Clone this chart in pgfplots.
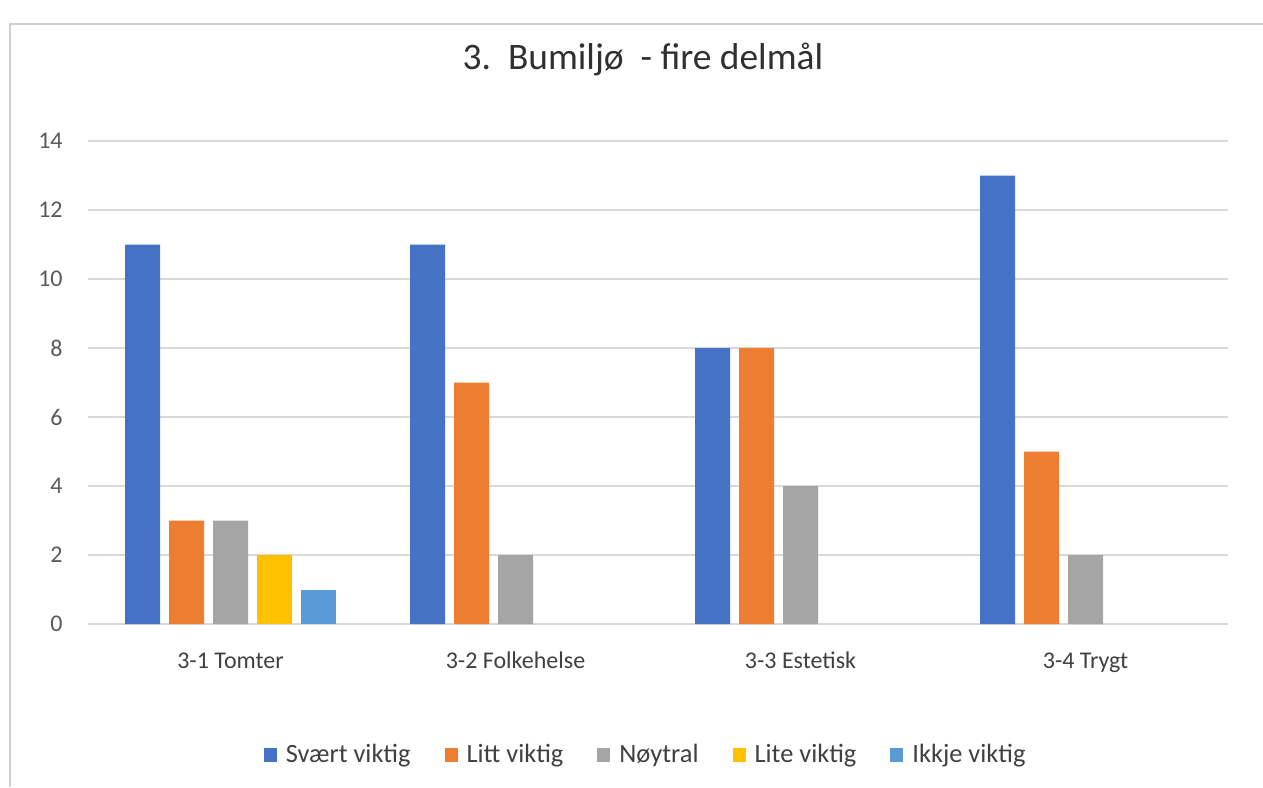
\documentclass[border=0pt]{standalone}
\usepackage{pgfplots}
\pgfplotsset{compat=1.18}
\usepackage{fontspec}
\setmainfont{Carlito}
\definecolor{cA}{HTML}{4472C4}
\definecolor{cB}{HTML}{ED7D31}
\definecolor{cC}{HTML}{A5A5A5}
\definecolor{cD}{HTML}{FFC000}
\definecolor{cE}{HTML}{5B9BD5}
\definecolor{gridgrey}{HTML}{D9D9D9}
\definecolor{framegrey}{HTML}{D0D0D0}
\definecolor{ticktext}{HTML}{595959}
\definecolor{labtext}{HTML}{404040}
\definecolor{titletext}{HTML}{303030}
\begin{document}
\begin{tikzpicture}
\path[use as bounding box] (0pt,0pt) rectangle (631.5pt,-393.5pt);
\draw[framegrey, line width=1pt] (5pt,-393.5pt) -- (5pt,-12pt) -- (631.5pt,-12pt);
\node[font=\fontsize{18.7}{22}\selectfont, text=titletext] at (321.5pt,-29.5pt) {3.\ \ Bumiljø\ \ - fire delmål};
\begin{axis}[
  at={(44pt,-312pt)}, anchor=south west,
  scale only axis, width=570pt, height=241.5pt,
  xmin=-0.5, xmax=3.5, ymin=0, ymax=14,
  ytick={0,2,...,14},
  xtick={0,1,2,3},
  xticklabels={3-1 Tomter,3-2 Folkehelse,3-3 Estetisk,3-4 Trygt},
  axis line style={draw=none},
  major tick length=0pt,
  ymajorgrids, major grid style={draw=gridgrey, line width=0.8pt},
  /pgf/number format/assume math mode=true,
  yticklabel style={font=\fontsize{12}{14}\selectfont, text=ticktext, anchor=east, inner sep=0pt, xshift=-12.5pt},
  xticklabel style={font=\fontsize{12}{14}\selectfont, text=labtext, anchor=base, inner sep=0pt, yshift=-22pt},
  ybar=4.5pt, bar width=17.5pt,
  legend columns=5,
  legend style={draw=none, fill=none, at={(0.49,-0.271)}, anchor=center,
    font=\fontsize{13.2}{15}\selectfont, text=labtext,
    /tikz/every odd column/.append style={column sep=2.5pt},
    /tikz/every even column/.append style={column sep=15pt}},
  legend image code/.code={\fill[#1] (0pt,-3.4pt) rectangle (6.5pt,3.4pt);},
]
\addplot[fill=cA, draw=none] coordinates {(0,11) (1,11) (2,8) (3,13)};
\addplot[fill=cB, draw=none] coordinates {(0,3) (1,7) (2,8) (3,5)};
\addplot[fill=cC, draw=none] coordinates {(0,3) (1,2) (2,4) (3,2)};
\addplot[fill=cD, draw=none] coordinates {(0,2)};
\addplot[fill=cE, draw=none] coordinates {(0,1)};
\legend{Svært viktig,Litt viktig,Nøytral,Lite viktig,Ikkje viktig}
\end{axis}
\end{tikzpicture}
\end{document}
